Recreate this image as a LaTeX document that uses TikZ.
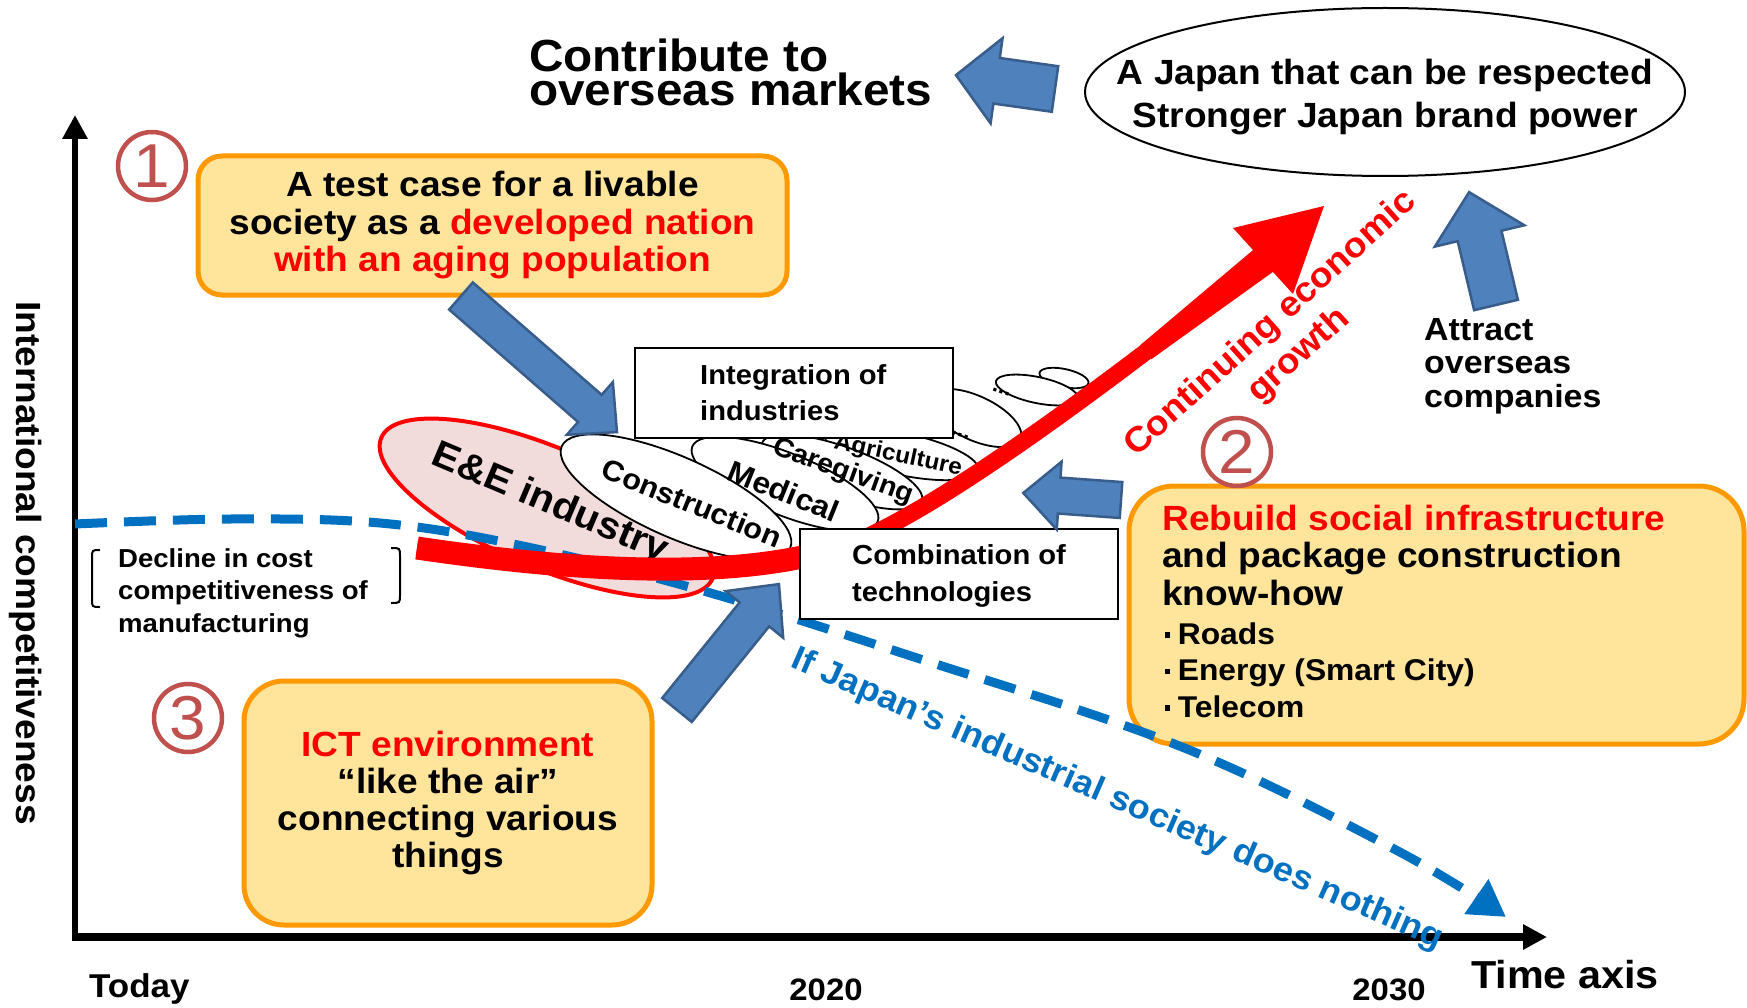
\documentclass[tikz,border=0pt]{standalone}
\usepackage{fontspec}
\setmainfont{Liberation Sans}[FakeStretch=1.06]
\usetikzlibrary{arrows.meta,shapes.geometric}
\definecolor{orfill}{RGB}{255,228,156}
\definecolor{orline}{RGB}{255,153,0}
\definecolor{bfill}{RGB}{79,129,189}
\definecolor{bline}{RGB}{56,93,138}
\definecolor{dblue}{RGB}{0,112,192}
\definecolor{numred}{RGB}{192,80,77}
\definecolor{eepink}{RGB}{242,220,219}
\newcommand\fs[2]{\fontsize{#1}{#2}\selectfont\bfseries\lineskiplimit=-60pt}
\newcommand\bul{\makebox[0.42em][l]{\raisebox{0.22em}{\rule{0.17em}{0.18em}}}}
\newcommand\blockarrow[7]{\begin{scope}[shift={(#1,#2)},rotate=#3]\draw[blk] (0,#5) -- ({#4-#7},#5) -- ({#4-#7},#6) -- (#4,0) -- ({#4-#7},-#6) -- ({#4-#7},-#5) -- (0,-#5) -- cycle;\end{scope}}
\begin{document}
\begin{tikzpicture}[x=1pt,y=-1pt,
  orbox/.style={draw=orline, fill=orfill, line width=5pt, inner sep=0pt},
  blk/.style={fill=bfill, draw=bline, line width=2.5pt, line join=miter},
  plain/.style={draw=black, fill=white, line width=2pt, inner sep=0pt},
  ell/.style={ellipse, draw=black, fill=white, line width=1.8pt, inner sep=0pt},
  numring/.style={circle, draw=numred, line width=4.5pt, minimum size=68pt, inner sep=0pt, text=numred, font=\fontsize{62}{64}\selectfont},
  txt/.style={inner sep=0pt}]
\useasboundingbox[fill=white] (0,0) rectangle (1747,1008);

% axes
\coordinate (ybot) at (75,941);
\coordinate (ytop) at (75,115);
\coordinate (xbeg) at (72,937);
\coordinate (xend) at (1547,937);
\draw[line width=6pt, -{Triangle[length=24pt,width=24pt]}] (ybot) -- (ytop);
\draw[line width=8pt, -{Triangle[length=24pt,width=24pt]}] (xbeg) -- (xend);

% orange boxes
\node[orbox, rounded corners=24pt, minimum width=589pt, minimum height=139pt, align=center, font=\fs{35}{37.5}] (box1) at (492.5,225.5)
  {A test case for a livable\\society as a \textcolor{red}{developed nation}\\\textcolor{red}{with an aging population}};
\node[orbox, rounded corners=40pt, minimum width=408pt, minimum height=244pt, align=center, font=\fs{35}{37}] (ict) at (448,803)
  {\textcolor{red}{ICT environment}\\“like the air”\\connecting various\\things};
\node[orbox, rounded corners=45pt, minimum width=615pt, minimum height=258pt] (rebuild) at (1436.5,615) {};
\node[txt, anchor=west, align=left, font=\fs{35}{37.5}] (rebtxt) at (1162,555)
  {\textcolor{red}{Rebuild social infrastructure}\\and package construction\\know-how};
\node[txt, anchor=west, align=left, font=\fs{30}{36.5}] (rebbul) at (1165,670)
  {\bul Roads\\\bul Energy (Smart City)\\\bul Telecom};

% ellipse stack
\node[ell, minimum width=50pt, minimum height=18pt, rotate=-12] (d3) at (1064,378) {};
\node[ell, minimum width=84pt, minimum height=26pt, rotate=-12] (d2) at (1037,390) {};
\node[ell, minimum width=100pt, minimum height=44pt, rotate=-25] (d1) at (975,418) {};
\node[ell, minimum width=156pt, minimum height=42pt, rotate=-12] (agri) at (902,454) {};
\node[ell, minimum width=170pt, minimum height=50pt, rotate=-20] (care) at (842,472) {};
\node[ell, minimum width=200pt, minimum height=62pt, rotate=-22] (med) at (785,484) {};
\node[ell, draw=red, fill=eepink, line width=4pt, minimum width=360pt, minimum height=120pt, rotate=-23] (ee) at (547,508) {};
\node[ell, minimum width=250pt, minimum height=80pt, rotate=-24] (con) at (676,497) {};

\node[txt, rotate=-23, font=\fs{38}{40}] (eet) at (550,504) {E\&E industry};
\node[txt, rotate=-22, font=\fs{29}{30}] (cont) at (692,503) {Construction};
\node[txt, rotate=-22, font=\fs{30}{30}] (medt) at (784,491) {Medical};
\node[txt, rotate=-20, font=\fs{27}{30}] (caret) at (843,472) {Caregiving};
\node[txt, rotate=-12, font=\fs{23}{25}] (agrit) at (898,456) {Agriculture};
\node[txt, rotate=-20, font=\fs{22}{24}] (dots1) at (1001,392) {...};
\node[txt, rotate=-20, font=\fs{22}{24}] (dots2) at (960,435) {...};

% blue dashed decline
\draw[dblue, line width=9pt, dash pattern=on 32pt off 17pt, -{Triangle[length=36pt,width=40pt]}]
  plot[smooth, tension=0.6] coordinates {(75,524) (230,519) (380,523) (518,545) (700,590) (914,657) (1182,747) (1396,850) (1506,917)};

% red growth arrow
\coordinate (rs) at (417,548);
\coordinate (rm) at (860,540);
\coordinate (re) at (1268,257);
\draw[red, line width=17pt] (rs) .. controls (600,575) and (760,580) .. (rm) .. controls (950,500) and (1100,390) .. (re);
\draw[red, line width=23pt] (rs) .. controls (600,575) and (760,580) .. (rm);
\fill[red] (1140.5,344.9) -- (1258.8,245.2) -- (1277.2,268.8) -- (1151.5,359.1) -- cycle;
\fill[red] (1233,228) -- (1324,206) -- (1293,294) -- cycle;

% white boxes
\node[plain, minimum width=318pt, minimum height=90pt] (integ) at (794,393) {};
\node[txt, anchor=west, align=left, font=\fs{27.5}{36}] (integt) at (700,393) {Integration of\\industries};
\node[plain, minimum width=318pt, minimum height=90pt] (comb) at (959,574) {};
\node[txt, anchor=west, align=left, font=\fs{27.5}{37}] (combt) at (852,576) {Combination of\\technologies};

% top ellipse
\node[ellipse, draw=black, line width=2pt, minimum width=600pt, minimum height=168pt, inner sep=0pt] (japan) at (1385,92) {};
\node[txt, align=center, font=\fs{35}{43}] (japant) at (1385,97.5) {A Japan that can be respected\\Stronger Japan brand power};
\node[txt, anchor=west, align=left, font=\fs{45}{34}] (contrib) at (529,72) {Contribute to\\overseas markets};

% blue block arrows
\blockarrow{1055}{89}{172}{100}{23}{43}{41}
\blockarrow{1496}{305}{103.4}{116}{22.5}{46}{45}
\blockarrow{461}{296}{-41.1}{207}{18}{35}{36}
\blockarrow{677}{710}{51}{162}{19}{37}{39}
\blockarrow{1121}{500}{175.9}{98}{18}{34}{36}

% decline bracket text
\draw[line width=2pt] (100,550) .. controls (92,550) .. (92,558) -- (92,599) .. controls (92,607) .. (100,607);
\draw[line width=2pt] (391,548) .. controls (400,548) .. (400,556) -- (400,595) .. controls (400,603) .. (391,603);
\node[txt, anchor=west, align=left, font=\fs{26}{32.5}] (decl) at (118,593) {Decline in cost\\competitiveness of\\manufacturing};

\node[txt, anchor=west, align=left, font=\fs{32}{33.5}] (attract) at (1424,366) {Attract\\overseas\\companies};

% numbers
\node[numring] (n1) at (152,166) {1};
\node[numring] (n2) at (1237,452) {2};
\node[numring] (n3) at (188,718) {3};

% rotated labels
\node[txt, rotate=42, text=red, align=center, font=\fs{35}{42}] (grow) at (1285,340) {Continuing economic\\growth};
\node[txt, rotate=-23.5, text=dblue, font=\fs{34}{36}] (nothing) at (1117,800) {If Japan’s industrial society does nothing};
\node[txt, rotate=-90, font=\fs{35}{40}] (ylab) at (26,563) {International competitiveness};

% axis labels
\node[txt, anchor=base west, font=\fs{33}{36}] (today) at (89,997) {Today};
\node[txt, anchor=base, font=\fs{31}{34}] (y2020) at (826,1000) {2020};
\node[txt, anchor=base, font=\fs{31}{34}] (y2030) at (1389,1000) {2030};
\node[txt, anchor=base west, font=\fs{39}{42}] (taxis) at (1471,988) {Time axis};
\end{tikzpicture}
\end{document}
